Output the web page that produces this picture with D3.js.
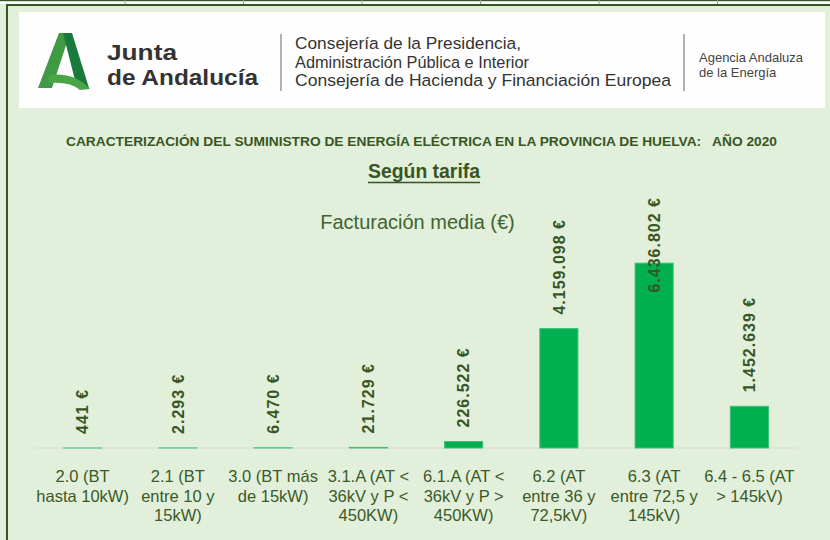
<!DOCTYPE html>
<html>
<head>
    <meta charset="utf-8">
    <title>Facturación media según tarifa - Huelva 2020</title>
    <script src="https://d3js.org/d3.v7.min.js"></script>
    <style>
        body { margin: 0; background: #e2efda; }
        svg { display: block; }
    </style>
</head>
<body>
    <div id="chart"></div>

    <script>
        // Tarifas (saltos de línea como en el gráfico original)
        var categories = [
            "2.0 (BT\nhasta 10kW)",
            "2.1 (BT\nentre 10 y\n15kW)",
            "3.0 (BT más\nde 15kW)",
            "3.1.A (AT <\n36kV y P <\n450KW)",
            "6.1.A (AT <\n36kV y P >\n450KW)",
            "6.2 (AT\nentre 36 y\n72,5kV)",
            "6.3  (AT\nentre 72,5 y\n145kV)",
            "6.4 - 6.5  (AT\n> 145kV)"
        ];

        // Facturación media (€)
        var values = [441, 2293, 6470, 21729, 226522, 4159098, 6436802, 1452639];

        var yMax = 7000000;

        var width = 830;
        var height = 540;
        var darkGreen = "#375623";

        var svg = d3.select("#chart")
            .append("svg")
            .attr("width", width)
            .attr("height", height);

        // fondo
        svg.append("rect")
            .attr("width", width)
            .attr("height", height)
            .attr("fill", "#e2efda");

        // franja superior (celdas de la hoja)
        svg.append("rect")
            .attr("x", 0).attr("y", 0)
            .attr("width", width).attr("height", 4)
            .attr("fill", "#ffffff");
        svg.append("rect")
            .attr("x", 0).attr("y", 0)
            .attr("width", width).attr("height", 1.2)
            .attr("fill", darkGreen);
        [125, 243.5, 362, 480.5, 599, 717.5].forEach(function(gx) {
            svg.append("line")
                .attr("x1", gx).attr("x2", gx)
                .attr("y1", 0).attr("y2", 4)
                .attr("stroke", "#9a9a9a");
        });

        // borde verde oscuro
        svg.append("rect")
            .attr("x", 6).attr("y", 4)
            .attr("width", width - 6).attr("height", 2)
            .attr("fill", darkGreen);
        svg.append("rect")
            .attr("x", 6).attr("y", 4)
            .attr("width", 2).attr("height", height - 4)
            .attr("fill", darkGreen);

        // cabecera blanca
        var header = svg.append("g");
        header.append("rect")
            .attr("x", 19).attr("y", 12)
            .attr("width", 806).attr("height", 96)
            .attr("fill", "#fefefe");

        // logo "A"
        header.append("path")
            .attr("d", "M59,33 L70,33 L52,88 L38,88 Z")
            .attr("fill", "#3f9a43");
        header.append("path")
            .attr("d", "M63,33 L72,33 L89,88 L77,88 Z")
            .attr("fill", "#1a7a3c");
        header.append("path")
            .attr("d", "M50,75 Q74,72 90,89 L80,90 Q70,81 48,83 Z")
            .attr("fill", "#4aa548");

        header.append("text")
            .attr("x", 107).attr("y", 60)
            .attr("font-family", "'Liberation Sans', sans-serif")
            .attr("font-weight", "bold")
            .attr("font-size", 22)
            .attr("textLength", 70)
            .attr("lengthAdjust", "spacingAndGlyphs")
            .attr("fill", "#333333")
            .text("Junta");
        header.append("text")
            .attr("x", 107).attr("y", 85)
            .attr("font-family", "'Liberation Sans', sans-serif")
            .attr("font-weight", "bold")
            .attr("font-size", 22)
            .attr("textLength", 151)
            .attr("lengthAdjust", "spacingAndGlyphs")
            .attr("fill", "#333333")
            .text("de Andalucía");

        header.selectAll("line.sep")
            .data([281, 684])
            .enter()
            .append("line")
            .attr("class", "sep")
            .attr("x1", function(d) { return d; })
            .attr("x2", function(d) { return d; })
            .attr("y1", 34).attr("y2", 91)
            .attr("stroke", "#666666")
            .attr("stroke-width", 1);

        var consejeria = ["Consejería de la Presidencia,",
            "Administración Pública e Interior",
            "Consejería de Hacienda y Financiación Europea"];
        var consejeriaLen = [226, 234, 376];
        header.selectAll("text.cons")
            .data(consejeria)
            .enter()
            .append("text")
            .attr("class", "cons")
            .attr("x", 295)
            .attr("y", function(d, i) { return 49 + i * 18.5; })
            .attr("font-family", "'Liberation Sans', sans-serif")
            .attr("font-size", 16.3)
            .attr("textLength", function(d, i) { return consejeriaLen[i]; })
            .attr("lengthAdjust", "spacingAndGlyphs")
            .attr("fill", "#333333")
            .text(function(d) { return d; });

        var agencia = ["Agencia Andaluza", "de la Energía"];
        header.selectAll("text.age")
            .data(agencia)
            .enter()
            .append("text")
            .attr("class", "age")
            .attr("x", 699)
            .attr("y", function(d, i) { return 62 + i * 15; })
            .attr("font-family", "'Liberation Sans', sans-serif")
            .attr("font-size", 13)
            .attr("fill", "#444444")
            .text(function(d) { return d; });

        // títulos
        svg.append("text")
            .attr("x", 421.5).attr("y", 146)
            .attr("text-anchor", "middle")
            .attr("font-family", "'Liberation Sans Narrow', 'Liberation Sans', sans-serif")
            .attr("font-weight", "bold")
            .attr("font-size", 13.5)
            .attr("textLength", 711)
            .attr("lengthAdjust", "spacingAndGlyphs")
            .attr("fill", darkGreen)
            .style("white-space", "pre")
            .text("CARACTERIZACIÓN DEL SUMINISTRO DE ENERGÍA ELÉCTRICA EN LA PROVINCIA DE HUELVA:   AÑO 2020");

        svg.append("text")
            .attr("x", 424).attr("y", 178)
            .attr("text-anchor", "middle")
            .attr("font-family", "'Liberation Sans', sans-serif")
            .attr("font-weight", "bold")
            .attr("font-size", 20)
            .attr("textLength", 112)
            .attr("lengthAdjust", "spacingAndGlyphs")
            .attr("fill", darkGreen)
            .text("Según tarifa");
        svg.append("line")
            .attr("x1", 368).attr("x2", 480)
            .attr("y1", 182.5).attr("y2", 182.5)
            .attr("stroke", darkGreen)
            .attr("stroke-width", 1.5);

        svg.append("text")
            .attr("x", 417.5).attr("y", 229)
            .attr("text-anchor", "middle")
            .attr("font-family", "'Liberation Sans', sans-serif")
            .attr("font-size", 20)
            .attr("fill", "#41632f")
            .text("Facturación media (€)");

        // escalas
        var x = d3.scaleBand()
            .domain(categories)
            .range([35, 797])
            .paddingInner(0.6)
            .paddingOuter(0.3);

        var y = d3.scaleLinear()
            .domain([0, yMax])
            .range([448, 247]);

        var es = d3.formatLocale({ decimal: ",", thousands: ".", grouping: [3], currency: ["", " €"] });
        var fmt = es.format(",.0f");

        // línea base
        svg.append("line")
            .attr("x1", 35).attr("x2", 797)
            .attr("y1", y(0)).attr("y2", y(0))
            .attr("stroke", "#d9d9d9")
            .attr("stroke-width", 1);

        // barras
        var data = categories.map(function(c, i) { return { cat: c, value: values[i] }; });

        svg.append("g")
            .selectAll("rect")
            .data(data)
            .enter()
            .append("rect")
            .attr("x", function(d) { return x(d.cat); })
            .attr("y", function(d) { return y(d.value); })
            .attr("width", x.bandwidth())
            .attr("height", function(d) { return y(0) - y(d.value); })
            .attr("fill", "#00b050")
            .attr("stroke", "#3cc276")
            .attr("stroke-width", 1);

        // etiquetas de valor (verticales)
        var labelTop = 197;
        var labels = svg.append("g")
            .selectAll("text")
            .data(data)
            .enter()
            .append("text")
            .attr("font-family", "'Liberation Sans', sans-serif")
            .attr("font-weight", "bold")
            .attr("font-size", 16)
            .attr("letter-spacing", 1)
            .attr("fill", darkGreen)
            .attr("dy", "0.36em")
            .text(function(d) { return fmt(d.value) + " €"; });

        labels.each(function(d) {
            var len = this.getComputedTextLength();
            var pos = y(d.value) - 14;
            if (pos - len < labelTop) pos = labelTop + len;
            var cx = x(d.cat) + x.bandwidth() / 2;
            d3.select(this).attr("transform", "translate(" + cx + "," + pos + ") rotate(-90)");
        });

        // etiquetas de categoría
        var catLabels = svg.append("g")
            .selectAll("text")
            .data(categories)
            .enter()
            .append("text")
            .attr("text-anchor", "middle")
            .attr("font-family", "'Liberation Sans', sans-serif")
            .attr("font-size", 16.5)
            .attr("fill", "#3a5a28");

        catLabels.selectAll("tspan")
            .data(function(c) {
                return c.split("\n").map(function(t) { return { cat: c, line: t }; });
            })
            .enter()
            .append("tspan")
            .attr("x", function(d) { return x(d.cat) + x.bandwidth() / 2; })
            .attr("y", function(d, i) { return 482 + i * 19.5; })
            .text(function(d) { return d.line; });
    </script>
</body>
</html>
